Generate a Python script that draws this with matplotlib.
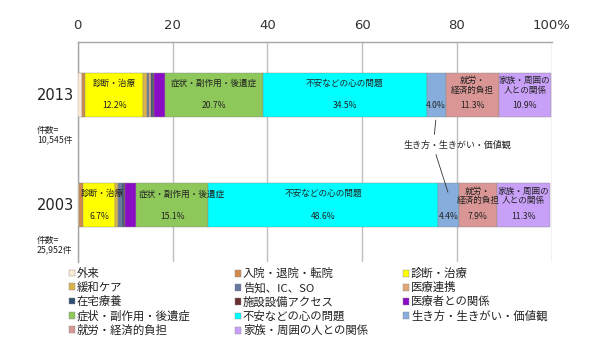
import numpy as np
import matplotlib
matplotlib.use("Agg")
import matplotlib.pyplot as plt

plt.rcParams['font.family'] = ['Noto Sans CJK JP', 'DejaVu Sans']

categories = ["外来", "入院・退院・転院", "診断・治療",
              "緩和ケア", "告知、IC、SO", "医療連携",
              "在宅療養", "施設設備アクセス", "医療者との関係",
              "症状・副作用・後遺症", "不安などの心の問題", "生き方・生きがい・価値観",
              "就労・経済的負担", "家族・周囲の人との関係"]
colors = ["#FDEBD6", "#D08A4A", "#FFFF00",
          "#D9B44A", "#65789E", "#E3A775",
          "#2F4F75", "#6B2F2F", "#8A0CC4",
          "#8FC85A", "#00FFFF", "#86ADDB",
          "#D99694", "#C9A0F8"]
years = ["2013", "2003"]
counts = ["件数=\n10,545件", "件数=\n25,952件"]
v2013 = [0.9, 0.7, 12.2, 0.8, 0.5, 0.3, 0.4, 0.4, 2.2, 20.7, 34.5, 4.0, 11.3, 10.9]
v2003 = [0.2, 1.0, 6.7, 0.6, 0.8, 0.1, 0.3, 0.2, 2.5, 15.1, 48.6, 4.4, 7.9, 11.3]

# labels written inside bars
names_in_bar = {2: "診断・治療", 9: "症状・副作用・後遺症", 10: "不安などの心の問題",
                12: "就労・\n経済的負担", 13: "家族・周囲の\n人との関係"}
pct_in_bar = [2, 9, 10, 11, 12, 13]
name_shift = {(1, 2): 0.6, (1, 9): 2.0}

fig = plt.figure(figsize=(6.16, 3.54), dpi=100)
ax = fig.add_axes([77.7 / 616, 1 - 262 / 354, 474 / 616, 220.3 / 354])

data = np.array([v2013, v2003])
ypos = np.arange(len(years))
left = np.zeros(len(years))
starts = []
for i, cat in enumerate(categories):
    ax.barh(ypos, data[:, i], left=left, height=0.4, color=colors[i],
            edgecolor="#8a8a8a", linewidth=0.3, label=cat, zorder=3)
    starts.append(left.copy())
    left = left + data[:, i]
starts = np.array(starts).T

for r in range(len(years)):
    for i in pct_in_bar:
        cx = starts[r, i] + data[r, i] / 2
        ax.text(cx, ypos[r] + 0.097, f"{data[r, i]:.1f}%", ha="center", va="center",
                fontsize=6.2, color="#222222", zorder=4)
        if i in names_in_bar:
            nm = names_in_bar[i]
            dy = -0.088 if "\n" in nm else -0.105
            ax.text(cx + name_shift.get((r, i), 0), ypos[r] + dy, nm, ha="center",
                    va="center", fontsize=6.2, color="#222222", linespacing=1.05, zorder=4)

# annotation for 生き方・生きがい・価値観
ax.text(80.2, 0.45, "生き方・生きがい・価値観", ha="center", va="center", fontsize=6.5,
        color="#222222", zorder=4)
ax.annotate("", xy=(starts[0, 11] + data[0, 11] / 2, ypos[0] + 0.2), xytext=(75.2, 0.38),
            arrowprops=dict(arrowstyle="-", lw=0.6, color="#333333"))
ax.annotate("", xy=(starts[1, 11] + data[1, 11] / 2, ypos[1] - 0.095), xytext=(75.4, 0.515),
            arrowprops=dict(arrowstyle="-", lw=0.6, color="#333333"))

ax.set_xlim(0, 100)
ax.set_ylim(1.515, -0.487)
ax.xaxis.tick_top()
ax.set_xticks([0, 20, 40, 60, 80, 100])
ax.set_xticklabels(["0", "20", "40", "60", "80", "100%"], family="DejaVu Sans", fontsize=9.5,
                   color="#333333")
ax.tick_params(axis="x", length=0, pad=7)
ax.set_yticks([])
ax.grid(axis="x", color="#BFBFBF", linewidth=1, zorder=0)
for s in ["right", "bottom"]:
    ax.spines[s].set_visible(False)
for s in ["top", "left"]:
    ax.spines[s].set_color("#A6A6A6")
    ax.spines[s].set_linewidth(1)

for r in range(len(years)):
    fig.text(37 / 616, 1 - (95 + 110 * r) / 354, years[r], family="DejaVu Sans", fontsize=10.5,
             va="center", ha="left", color="#222222")
    fig.text(37 / 616, 1 - (135 + 110 * r) / 354, counts[r], fontsize=6.3, va="center",
             ha="left", color="#222222", linespacing=1.0)

handles, labels = ax.get_legend_handles_labels()
col_x = [69, 235, 403]
for c in range(3):
    leg = fig.legend(handles[c::3], labels[c::3], loc="upper left",
                     bbox_to_anchor=(col_x[c] / 616, 1 - 268 / 354), frameon=False,
                     fontsize=8.2, handlelength=0.55, handleheight=0.55, handletextpad=0.15,
                     labelspacing=0.27, borderpad=0, borderaxespad=0)
    for t in leg.get_texts():
        t.set_color("#222222")

fig.savefig("out.png", dpi=100)
